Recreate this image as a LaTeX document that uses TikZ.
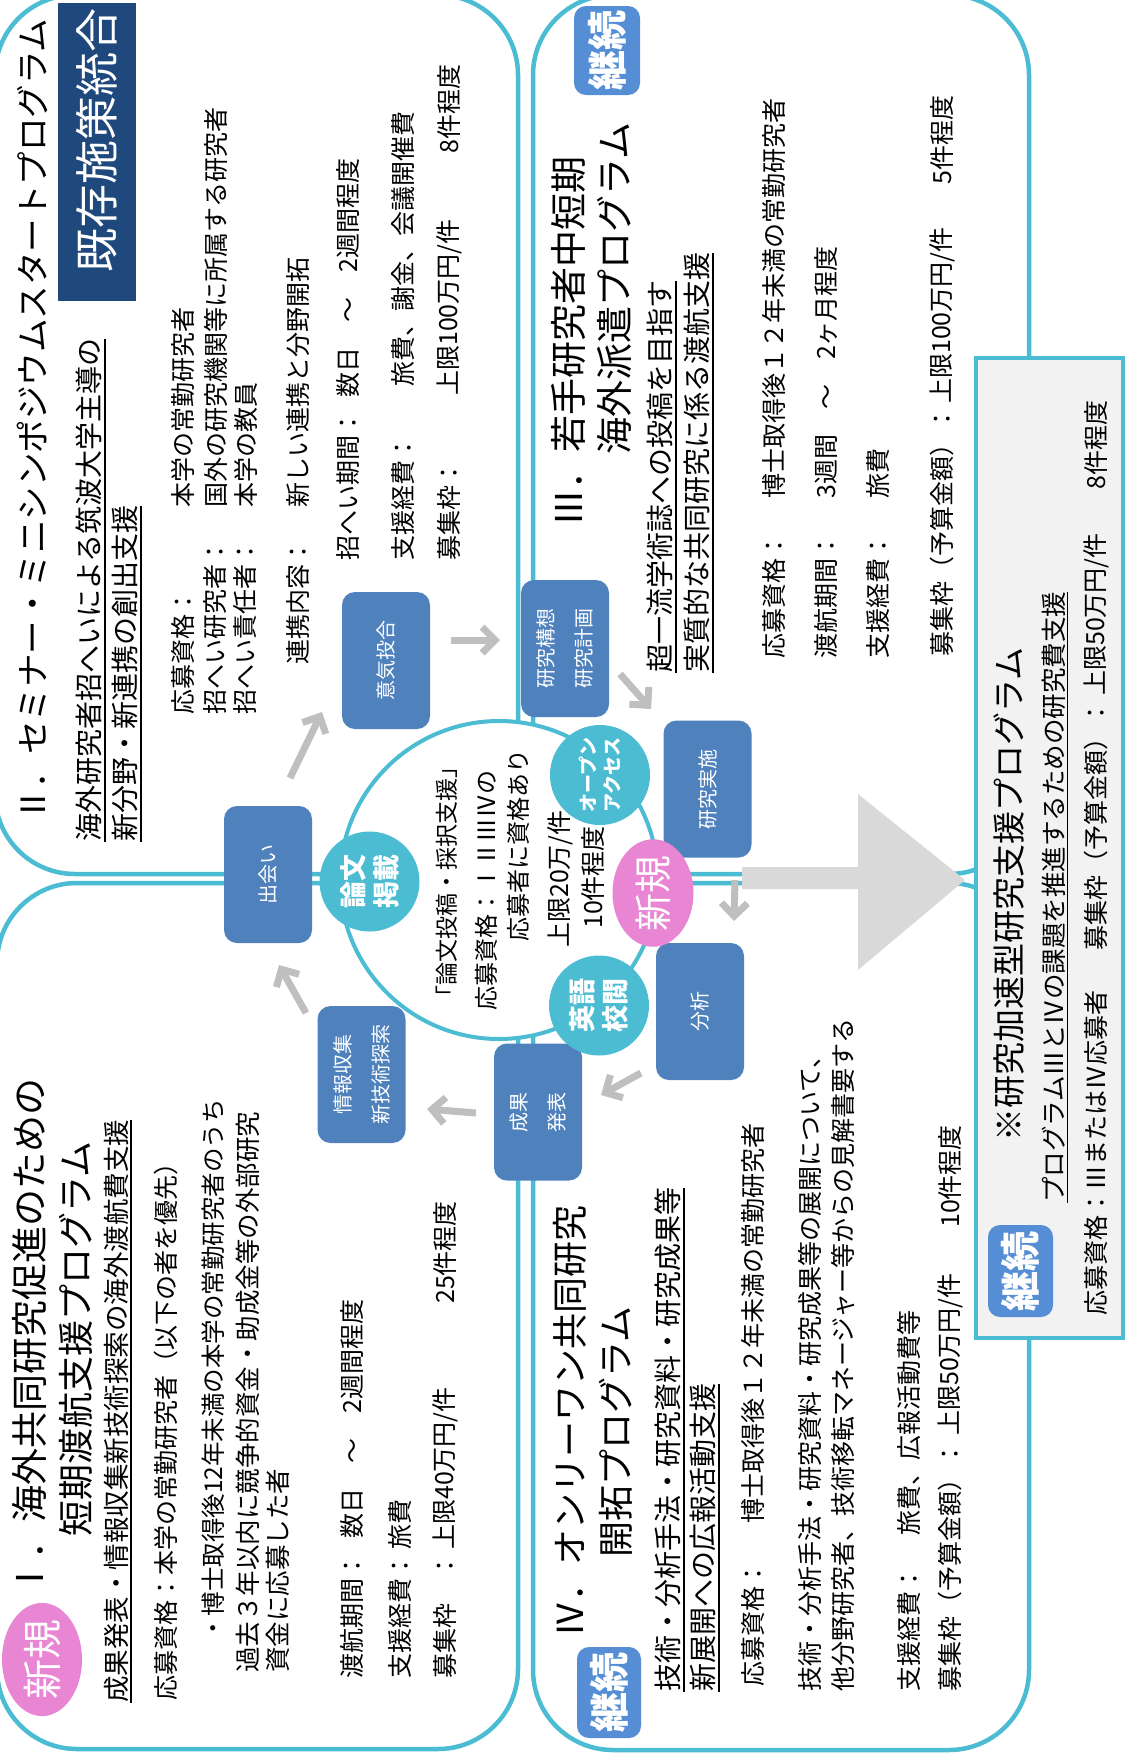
\documentclass[tikz,border=0pt]{standalone}
\usepackage{fontspec}
\setmainfont{Noto Sans CJK JP}
\usetikzlibrary{arrows.meta,shapes.geometric}
\definecolor{cyanb}{HTML}{4BBCD2}
\definecolor{boxblue}{HTML}{4F81BD}
\definecolor{badgeblue}{HTML}{558ED5}
\definecolor{pinkb}{HTML}{E886D4}
\definecolor{navyb}{HTML}{1F497D}
\definecolor{grayfill}{HTML}{F2F2F2}
\definecolor{bigarr}{HTML}{D9D9D9}
\definecolor{arrgray}{HTML}{BFBFBF}
\newcounter{tn}
\newcommand\ulx[1]{\setbox0\hbox{#1}\rlap{\vrule height -0.15em depth 0.21em width \wd0}\box0}
\newcommand\ptxt[4][]{\stepcounter{tn}\node[txt,#1] (t\arabic{tn}) at (#2,-#3) {#4};}
\tikzset{
  txt/.style={rotate=90,anchor=west,inner sep=0pt,font=\fontsize{25}{30}\selectfont},
  sub/.style={font=\fontsize{28}{32}\selectfont},
  panel/.style={draw=cyanb,line width=4.5pt,rounded corners=80pt},
  flow/.style={rotate=90,fill=boxblue,rounded corners=13pt,minimum width=137pt,minimum height=88pt,
    text=white,font=\fontsize{20}{38}\selectfont,align=center,inner sep=0pt},
  cbadge/.style={rotate=90,circle,fill=cyanb,minimum size=100pt,inner sep=0pt,text=white,
    font=\bfseries\fontsize{27}{33}\selectfont,align=center},
  pbadge/.style={rotate=90,ellipse,fill=pinkb,inner sep=0pt,text=white,font=\fontsize{38}{40}\selectfont},
  kbadge/.style={rotate=90,fill=badgeblue,rounded corners=12pt,inner sep=0pt,text=white,
    font=\bfseries\fontsize{40}{44}\selectfont},
  arr/.style={draw=arrgray,line width=7pt,-{Straight Barb[length=13pt,width=26pt]}}
}
\begin{document}
\begin{tikzpicture}[x=1pt,y=1pt]
\useasboundingbox (0,0) rectangle (1127,-1754);
% panels
\draw[panel] (-5,5) rectangle (518,-874);
\draw[panel] (-3,-883) rectangle (518,-1749);
\draw[panel] (533,5) rectangle (1029,-874);
\draw[panel] (533,-883) rectangle (1029,-1750);
% gray box
\draw[draw=cyanb,line width=4.5pt,fill=grayfill] (976,-358) rectangle (1123,-1338);
% big arrow
\fill[bigarr] (742,-867) -- (858,-867) -- (858,-794) -- (965,-880) -- (858,-970) -- (858,-889) -- (742,-889) -- cycle;
% central ring
\node[circle,draw=cyanb,line width=4pt,fill=white,minimum size=318pt,inner sep=0pt] (ring) at (499,-880) {};
% navy box
\node[rotate=90,fill=navyb,minimum width=298pt,minimum height=78pt,inner sep=0pt] (kizonbox) at (97,-152) {};
\node[rotate=90,text=white,inner sep=0pt,font=\fontsize{44}{48}\selectfont] (kizon) at (97,-140) {既存施策統合};
% flow boxes
\node[flow] (deai) at (268,-874.5) {出会い};
\node[flow] (ikigo) at (386,-660.5) {意気投合};
\node[flow] (kouso) at (565,-648.5) {研究構想\\研究計画};
\node[flow] (jissi) at (707.5,-789) {研究実施};
\node[flow] (bunseki) at (700,-1011.5) {分析};
\node[flow] (seika) at (538,-1112) {成果\\発表};
\node[flow] (joho) at (361.5,-1074.5) {情報収集\\新技術探索};
% circle badges
\node[cbadge] (ronbun) at (369.5,-881.5) {論文\\掲載};
\node[cbadge] (eigo) at (599,-1005.5) {英語\\校閲};
\node[cbadge,font=\bfseries\fontsize{19}{24}\selectfont] (oa) at (600,-775) {オープン\\アクセス};
\node[pbadge,minimum width=94pt,minimum height=81pt] (shinki2) at (653,-893) {新規};
\node[pbadge,minimum width=99pt,minimum height=80pt,font=\fontsize{40}{42}\selectfont] (shinki1) at (42,-1659.5) {新規};
% keizoku badges
\node[kbadge,minimum width=89pt,minimum height=66pt] (keizoku3) at (607,-50.5) {継続};
\node[kbadge,minimum width=91pt,minimum height=64pt] (keizoku4) at (609,-1692.5) {継続};
\node[kbadge,minimum width=92pt,minimum height=65pt] (keizoku5) at (1020.5,-1271) {継続};
% small arrows
\coordinate (a1s) at (290,-778); \coordinate (a1e) at (322,-712);
\coordinate (a2s) at (451,-640); \coordinate (a2e) at (500,-640);
\coordinate (a3s) at (620,-674); \coordinate (a3e) at (651,-709);
\coordinate (a4s) at (735,-880); \coordinate (a4e) at (734,-921);
\coordinate (a5s) at (641,-1073); \coordinate (a5e) at (601,-1095);
\coordinate (a6s) at (476,-1113); \coordinate (a6e) at (427,-1109);
\coordinate (a7s) at (306,-1013); \coordinate (a7e) at (279,-965);
\draw[arr] (a1s) -- (a1e);
\draw[arr] (a2s) -- (a2e);
\draw[arr] (a3s) -- (a3e);
\draw[arr] (a4s) -- (a4e);
\draw[arr] (a5s) -- (a5e);
\draw[arr] (a6s) -- (a6e);
\draw[arr] (a7s) -- (a7e);
% ---- Panel II
\ptxt[font=\fontsize{33.5}{38}\selectfont]{32}{822}{Ⅱ．セミナー・ミニシンポジウムスタートプログラム}
\ptxt[sub]{91}{842}{\ulx{海外研究者招へいによる筑波大学主導の}}
\ptxt[sub]{127}{842}{\ulx{新分野・新連携の創出支援}}
\ptxt{183}{715}{応募資格：}
\ptxt{183}{508}{本学の常勤研究者}
\ptxt{215.5}{715}{招へい研究者：}
\ptxt{215.5}{508}{国外の研究機関等に所属する研究者}
\ptxt{245.5}{715}{招へい責任者：}
\ptxt{245.5}{508}{本学の教員}
\ptxt{298}{665}{連携内容：}
\ptxt{298}{508}{新しい連携と分野開拓}
\ptxt{348}{561}{招へい期間：}
\ptxt{348}{398}{数日　～　2週間程度}
\ptxt{403}{561}{支援経費：}
\ptxt{403}{387}{旅費、謝金、会議開催費}
\ptxt{449}{561}{募集枠：}
\ptxt{449}{396}{上限100万円/件}
\ptxt{449}{154}{8件程度}
% ---- Panel III
\ptxt[font=\fontsize{37}{40}\selectfont]{568}{527}{Ⅲ．若手研究者中短期}
\ptxt[font=\fontsize{37}{40}\selectfont]{615}{455}{海外派遣プログラム}
\ptxt[sub]{662}{673}{\ulx{超一流学術誌への投稿を目指す}}
\ptxt[sub]{699}{673}{\ulx{実質的な共同研究に係る渡航支援}}
\ptxt{774}{659}{応募資格：}
\ptxt{774}{499}{博士取得後１２年未満の常勤研究者}
\ptxt{826}{659}{渡航期間：}
\ptxt{826}{499}{3週間　～　2ヶ月程度}
\ptxt{878}{659}{支援経費：}
\ptxt{878}{499}{旅費}
\ptxt{942}{657}{募集枠（予算金額）：}
\ptxt{942}{404}{上限100万円/件}
\ptxt{942}{185}{5件程度}
% ---- Panel IV
\ptxt[font=\fontsize{36}{40}\selectfont]{570}{1638}{Ⅳ．オンリーワン共同研究}
\ptxt[font=\fontsize{36}{40}\selectfont]{616}{1558}{開拓プログラム}
\ptxt[sub]{670}{1692}{\ulx{技術・分析手法・研究資料・研究成果等}}
\ptxt[sub]{705}{1692}{\ulx{新展開への広報活動支援}}
\ptxt{753}{1687}{応募資格：}
\ptxt{753}{1524}{博士取得後１２年未満の常勤研究者}
\ptxt{810}{1692}{技術・分析手法・研究資料・研究成果等の展開について、}
\ptxt{843}{1692}{他分野研究者、技術移転マネージャー等からの見解書要する}
\ptxt{909}{1692}{支援経費：}
\ptxt{909}{1536}{旅費、広報活動費等}
\ptxt{950}{1692}{募集枠（予算金額）：}
\ptxt{950}{1436}{上限50万円/件}
\ptxt{950}{1228}{10件程度}
% ---- Panel I
\ptxt[font=\fontsize{37}{40}\selectfont]{29}{1597}{Ⅰ．海外共同研究促進のための}
\ptxt[font=\fontsize{36}{40}\selectfont]{76}{1537}{短期渡航支援プログラム}
\ptxt[font=\fontsize{26.5}{30}\selectfont]{118}{1703}{\ulx{成果発表・情報収集新技術探索の海外渡航費支援}}
\ptxt{166}{1701}{応募資格：本学の常勤研究者（以下の者を優先）}
\ptxt[font=\fontsize{24.5}{30}\selectfont]{213}{1641}{・博士取得後12年未満の本学の常勤研究者のうち}
\ptxt[font=\fontsize{25.5}{30}\selectfont]{248}{1673}{過去３年以内に競争的資金・助成金等の外部研究}
\ptxt[font=\fontsize{25.5}{30}\selectfont]{278}{1673}{資金に応募した者}
\ptxt{352}{1679}{渡航期間：}
\ptxt{352}{1539}{数日　～　2週間程度}
\ptxt{400}{1679}{支援経費：}
\ptxt{400}{1550}{旅費}
\ptxt{445}{1679}{募集枠　：}
\ptxt{445}{1550}{上限40万円/件}
\ptxt{445}{1304}{25件程度}
% ---- Gray box
\ptxt[font=\fontsize{33}{36}\selectfont]{1009}{1142}{※研究加速型研究支援プログラム}
\ptxt[font=\fontsize{25.5}{30}\selectfont]{1055}{1203}{\ulx{プログラムⅢとⅣの課題を推進するための研究費支援}}
\ptxt{1096}{1316}{応募資格：ⅢまたはⅣ応募者}
\ptxt{1096}{951}{募集枠（予算金額）：}
\ptxt{1096}{696}{上限50万円/件}
\ptxt{1096}{490}{8件程度}
% ---- Center text
\ptxt[font=\fontsize{23}{26}\selectfont]{447}{1009}{「論文投稿・採択支援」}
\ptxt[font=\fontsize{24}{26}\selectfont]{486}{1011}{応募資格：ⅠⅡⅢⅣの}
\ptxt[font=\fontsize{24}{26}\selectfont]{518}{942}{応募者に資格あり}
\ptxt{560}{948}{上限20万/件}
\ptxt{593}{929}{10件程度}
\end{tikzpicture}
\end{document}
